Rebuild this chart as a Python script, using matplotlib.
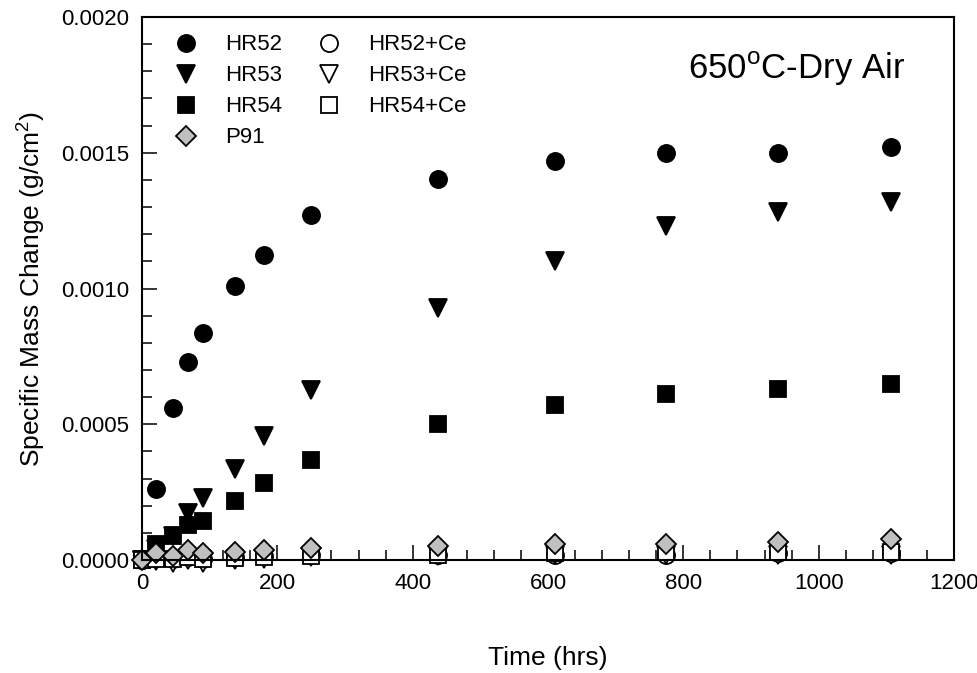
import matplotlib
matplotlib.use('Agg')
import matplotlib.pyplot as plt
from matplotlib.ticker import MultipleLocator

plt.rcParams['font.family'] = ['Liberation Sans', 'DejaVu Sans']

# exposure time (hrs)
time = [0, 21, 46, 68, 90, 138, 180, 250, 438, 611, 774, 940, 1107]

# specific mass change (g/cm^2)
hr52 = [0, 0.00026, 0.00056, 0.00073, 0.000836, 0.00101, 0.001124, 0.00127,
        0.001405, 0.00147, 0.0015, 0.0015, 0.00152]
hr53 = [0, 0.00004, 0.00009, 0.000172, 0.000229, 0.000337, 0.000458, 0.000625,
        0.00093, 0.0011, 0.00123, 0.00128, 0.00132]
hr54 = [0, 0.00006, 0.000088, 0.000129, 0.000145, 0.000218, 0.000282, 0.000368,
        0.0005, 0.00057, 0.00061, 0.00063, 0.00065]
hr52_ce = [0, 0.00001, 0.000005, 0.00001, 0.000005, 0.00001, 0.000015, 0.00002,
           0.00002, 0.00002, 0.00002, 0.000025, 0.000025]
hr53_ce = [0, -0.000005, -0.00001, 0, -0.00001, 0, 0.000005, 0.00001,
           0.000015, 0.00002, 0.00002, 0.00002, 0.00002]
hr54_ce = [0, 0.000005, 0.000005, 0.00001, 0.000002, 0.000008, 0.00001, 0.000015,
           0.00002, 0.000025, 0.000028, 0.00003, 0.00003]
p91 = [0, 0.000025, 0.000015, 0.000037, 0.000025, 0.00003, 0.000037, 0.000043,
       0.0000515, 0.00006, 0.00006, 0.000067, 0.000076]

fig = plt.figure(figsize=(9.78, 6.73), dpi=100)
ax = fig.add_axes([0.1452, 0.1679, 0.8303, 0.8068])

mk = dict(linestyle='none', markeredgecolor='black', markeredgewidth=1.3, clip_on=False)
h52, = ax.plot(time, hr52, marker='o', markersize=12.3, color='black', label='HR52', **mk)
h53, = ax.plot(time, hr53, marker='v', markersize=12.5, color='black', label='HR53', **mk)
h54, = ax.plot(time, hr54, marker='s', markersize=11, color='black', label='HR54', **mk)
h52c, = ax.plot(time, hr52_ce, marker='o', markersize=12.3, markerfacecolor='white', label='HR52+Ce', **mk)
h53c, = ax.plot(time, hr53_ce, marker='v', markersize=12.5, markerfacecolor='white', label='HR53+Ce', **mk)
h54c, = ax.plot(time, hr54_ce, marker='s', markersize=11, markerfacecolor='white', label='HR54+Ce', **mk)
hp91, = ax.plot(time, p91, marker='D', markersize=10.5, markerfacecolor='#c0c0c0', label='P91', **mk)

ax.set_xlim(0, 1200)
ax.set_ylim(0, 0.002)
ax.xaxis.set_major_locator(MultipleLocator(200))
ax.xaxis.set_minor_locator(MultipleLocator(40))
ax.yaxis.set_major_locator(MultipleLocator(0.0005))
ax.yaxis.set_minor_locator(MultipleLocator(0.0001))
ax.yaxis.set_major_formatter(plt.FormatStrFormatter('%.4f'))

ax.tick_params(which='both', direction='in', labelsize=16, width=1.1)
ax.tick_params(which='major', length=11)
ax.tick_params(which='minor', length=7)
ax.tick_params(axis='x', pad=9)
ax.tick_params(axis='y', pad=9)
for s in ax.spines.values():
    s.set_linewidth(1.5)

ax.set_xlabel('Time (hrs)', fontsize=19, labelpad=38)
ax.set_ylabel('Specific Mass Change (g/cm$^{\\mathregular{2}}$)', fontsize=19, labelpad=10.5)

ax.text(0.94, 0.886, '650$^{\\mathregular{o}}$C-Dry Air', transform=ax.transAxes,
        ha='right', va='baseline', fontsize=25)

ax.legend(handles=[h52, h53, h54, hp91, h52c, h53c, h54c], ncol=2, frameon=False,
          loc='upper left', bbox_to_anchor=(0.0, 1.009), fontsize=16,
          handletextpad=0.75, columnspacing=1.1, labelspacing=0.45,
          borderpad=0.5, borderaxespad=0.5)

fig.savefig('out.png', dpi=100)
